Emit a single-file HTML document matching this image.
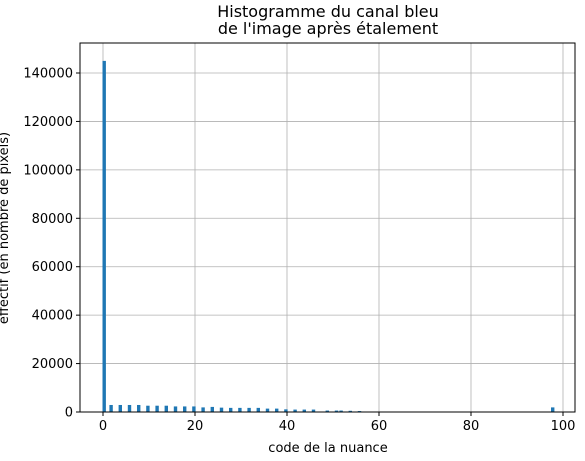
<!DOCTYPE html>
<html><head><meta charset="utf-8"><style>
body{margin:0;background:#fff;font-family:"Liberation Sans","DejaVu Sans",sans-serif}
</style></head><body>
<svg width="585" height="456" xmlns="http://www.w3.org/2000/svg" id="chart" font-family="DejaVu Sans, Liberation Sans, sans-serif">
<text x="328" y="17" text-anchor="middle" font-size="16">Histogramme du canal bleu</text>
<text x="328" y="34" text-anchor="middle" font-size="16">de l'image après étalement</text>
<g id="grid"></g><g id="bars"></g><g id="ticks"></g>
<rect x="80" y="43" width="495" height="369" fill="none" stroke="#000" stroke-width="1"/>
<text x="328" y="452" text-anchor="middle" font-size="13">code de la nuance</text>
<text transform="translate(8,228) rotate(-90)" text-anchor="middle" font-size="13">effectif (en nombre de pixels)</text>
</svg>
<script>
const binStarts=[0,1.5,3.5,5.5,7.5,9.5,11.5,13.5,15.5,17.5,19.5,21.5,23.5,25.5,27.5,29.5,31.5,33.5,35.5,37.5,39.5,41.5,43.5,45.5,48.5,50.5,51.5,53.5,55.5,97.5];
const counts=[145000,2900,2900,2900,2900,2600,2600,2600,2300,2300,2300,1900,2100,1800,1700,1700,1700,1700,1400,1400,1100,1000,1000,1000,600,600,600,500,400,1900];
const xTicks=[0,20,40,60,80,100];
const yTicks=[0,20000,40000,60000,80000,100000,120000,140000];
const NS="http://www.w3.org/2000/svg";
const xs=v=>103+v*4.6, ys=v=>412-v*339/140000;
const g=document.getElementById('grid'),b=document.getElementById('bars'),t=document.getElementById('ticks');
function el(p,tag,a){const e=document.createElementNS(NS,tag);for(const k in a)e.setAttribute(k,a[k]);p.appendChild(e);return e;}
xTicks.forEach(v=>{const x=xs(v);
const l=el(g,'line',{x1:x,x2:x,y1:43,y2:412,stroke:'#b0b0b0','stroke-width':0.8});


el(t,'line',{x1:x,x2:x,y1:412,y2:416,stroke:'#000'});
const tx=el(t,'text',{x:x,y:430,'text-anchor':'middle','font-size':13});tx.textContent=v;

});
yTicks.forEach(v=>{const y=ys(v);
const l=el(g,'line',{x1:80,x2:575,y1:y,y2:y,stroke:'#b0b0b0','stroke-width':0.8});


el(t,'line',{x1:76,x2:80,y1:y,y2:y,stroke:'#000'});
const tx=el(t,'text',{x:73,y:y+4.5,'text-anchor':'end','font-size':13});tx.textContent=v;

});
binStarts.forEach((s,i)=>{const x=xs(s),y=ys(counts[i]);
const r=el(b,'rect',{x:x-0.5,y:y,width:3.4,height:412-y,fill:'#1f77b4'});

});
</script>
</body></html>
